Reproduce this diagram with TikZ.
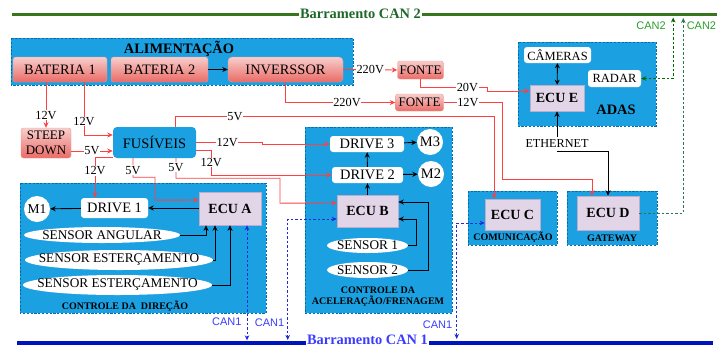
\documentclass[tikz,border=0pt]{standalone}
\usepackage{fontspec}
\setmainfont{Liberation Serif}
\newfontfamily\canfont{Liberation Sans}
\usetikzlibrary{arrows.meta,positioning,shapes.geometric}

\definecolor{azulgrupo}{RGB}{27,161,226}
\definecolor{bordagrupo}{RGB}{0,110,175}
\definecolor{lilas}{RGB}{225,213,231}
\definecolor{bordalilas}{RGB}{190,172,204}
\definecolor{vermclaro}{RGB}{248,206,204}
\definecolor{vermescuro}{RGB}{234,107,102}
\definecolor{vermborda}{RGB}{236,150,146}
\definecolor{fiovermelho}{RGB}{255,64,64}
\definecolor{verdebus}{RGB}{56,118,29}
\definecolor{verdetitulo}{RGB}{30,105,40}
\definecolor{verdecan}{RGB}{0,105,0}
\definecolor{verdecanb}{RGB}{40,120,80}
\definecolor{verdetxt}{RGB}{40,160,40}
\definecolor{azulbus}{RGB}{0,20,190}
\definecolor{azulcan}{RGB}{30,40,220}
\definecolor{azultxt}{RGB}{60,60,255}

\begin{document}
\begin{tikzpicture}[x=1pt, y=-1pt,
    grupo/.style={draw=bordagrupo, fill=azulgrupo, dash pattern=on 2.2pt off 1.6pt, line width=0.8pt},
    gtitulo/.style={inner sep=0pt, align=center, font=\fontsize{10}{11}\selectfont\bfseries},
    titulo/.style={inner sep=0pt, font=\fontsize{14.4}{16}\selectfont\bfseries},
    bus/.style={inner sep=1pt, font=\fontsize{14.4}{16}\selectfont\bfseries},
    fonte/.style={rounded corners=2.5pt, draw=vermborda, line width=0.4pt, top color=vermclaro,
                  bottom color=vermescuro, inner sep=0pt, font=\fontsize{14.4}{16}\selectfont},
    fusivel/.style={rounded corners=4pt, fill=azulgrupo, inner sep=0pt, font=\fontsize{14.4}{16}\selectfont},
    ecu/.style={draw=bordalilas, line width=0.6pt, fill=lilas, inner sep=0pt,
                font=\fontsize{14}{16}\selectfont\bfseries},
    caixa/.style={fill=white, rounded corners=3pt, inner sep=0pt, font=\fontsize{14.4}{16}\selectfont},
    caixap/.style={fill=white, rounded corners=3pt, inner sep=0pt, font=\fontsize{12.5}{14}\selectfont},
    sensor/.style={ellipse, fill=white, inner xsep=-30pt, inner ysep=-4pt, font=\fontsize{13.3}{15}\selectfont},
    motor/.style={circle, fill=white, inner sep=0pt, minimum size=26pt, font=\fontsize{13.5}{15}\selectfont},
    tensao/.style={fill=white, inner sep=0.6pt, font=\fontsize{12.3}{14}\selectfont},
    fio/.style={draw=fiovermelho, line width=0.9pt, -{Stealth[length=5.5pt, width=5pt]}},
    seta/.style={line width=0.9pt, -{Stealth[length=5.5pt, width=5pt]}},
    seta2/.style={line width=0.9pt, {Stealth[length=5pt, width=5pt]}-{Stealth[length=5pt, width=5pt]}},
    can1/.style={draw=azulcan, line width=0.9pt, dash pattern=on 2.5pt off 2pt,
                 {Stealth[length=5pt, width=4.5pt]}-{Stealth[length=5pt, width=4.5pt]}},
    can2/.style={draw=verdecan, line width=0.9pt, dash pattern=on 2.5pt off 2pt,
                 {Stealth[length=5pt, width=4.5pt]}-{Stealth[length=5pt, width=4.5pt]}},
    can2b/.style={draw=verdecanb, line width=0.9pt, dash pattern=on 2.5pt off 2pt,
                 -{Stealth[length=5pt, width=4.5pt]}},
    cantxt1/.style={inner sep=0pt, text=azultxt, font=\canfont\fontsize{11}{13}\selectfont},
    cantxt2/.style={inner sep=0pt, text=verdetxt, font=\canfont\fontsize{11}{13}\selectfont}
]
  \useasboundingbox (0,0) rectangle (727,346);

  % barramentos
  \coordinate (c2ini) at (12,14);
  \coordinate (c2fim) at (717,14);
  \node[bus, text=verdetitulo] (can2) at (360.5,14) {Barramento CAN 2};
  \draw[verdebus, line width=3pt] (c2ini) -- (can2.west |- c2ini);
  \draw[verdebus, line width=3pt] (can2.east |- c2fim) -- (c2fim);

  \coordinate (c1ini) at (17,343);
  \coordinate (c1fim) at (713,343);
  \node[bus, inner ysep=0pt, text=azultxt] (can1) at (367.5,339.5) {Barramento CAN 1};
  \draw[azulbus, line width=3.5pt] (c1ini) -- (can1.west |- c1ini);
  \draw[azulbus, line width=3.5pt] (can1.east |- c1fim) -- (c1fim);

  % grupos
  \draw[grupo] (11,38) rectangle (353,85);
  \draw[grupo] (20,183) rectangle (266,313);
  \draw[grupo] (305,127) rectangle (452,313);
  \draw[grupo] (468,191) rectangle (557,245);
  \draw[grupo] (567,191) rectangle (657,245);
  \draw[grupo] (518,42) rectangle (656,126);

  \node[titulo] (talim) at (179,49) {ALIMENTAÇÃO};
  \node[gtitulo] (tdir) at (125,306) {CONTROLE DA~~DIREÇÃO};
  \node[gtitulo] (tacel) at (378,296.5) {CONTROLE DA\\ACELERAÇÃO/FRENAGEM};
  \node[gtitulo] (tcom) at (513,237) {COMUNICAÇÃO};
  \node[gtitulo] (tgate) at (612,238) {GATEWAY};
  \node[titulo] (tadas) at (616,110) {ADAS};

  % alimentacao
  \node[fonte, minimum width=94pt, minimum height=25pt] (bat1) at (60,69.5) {BATERIA 1};
  \node[fonte, minimum width=97pt, minimum height=25pt] (bat2) at (159.5,69.5) {BATERIA 2};
  \node[fonte, minimum width=115pt, minimum height=25pt, rounded corners=4pt] (inv) at (285.5,69.5) {INVERSSOR};
  \node[fonte, minimum width=46pt, minimum height=18pt, font=\fontsize{13}{15}\selectfont] (fonte1) at (420.5,70) {FONTE};
  \node[fonte, minimum width=48pt, minimum height=17pt, font=\fontsize{13}{15}\selectfont] (fonte2) at (419.5,102.5) {FONTE};
  \node[fonte, minimum width=50pt, minimum height=30pt, align=center, font=\fontsize{13}{15}\selectfont] (steep) at (46,143) {STEEP\\DOWN};
  \node[fusivel, minimum width=83pt, minimum height=31pt] (fus) at (154.5,142.5) {FUSÍVEIS};

  % controle da direcao
  \node[motor] (m1) at (37,209) {M1};
  \node[caixa, minimum width=67pt, minimum height=20pt] (drive1) at (114.5,208) {DRIVE 1};
  \node[ecu, minimum width=62pt, minimum height=33pt] (ecuA) at (230,208.5) {ECU A};
  \node[sensor, minimum width=156pt, minimum height=16pt] (sensA) at (102,235) {SENSOR ANGULAR};
  \node[sensor, minimum width=188pt, minimum height=20pt] (sensE1) at (119,260) {SENSOR ESTERÇAMENTO};
  \node[sensor, minimum width=189pt, minimum height=20pt] (sensE2) at (117.5,285) {SENSOR ESTERÇAMENTO};

  % aceleracao / frenagem
  \node[caixa, minimum width=74pt, minimum height=16pt] (drive3) at (367,144) {DRIVE 3};
  \node[caixa, minimum width=71pt, minimum height=16pt] (drive2) at (367.5,175) {DRIVE 2};
  \node[motor, font=\fontsize{14.5}{16}\selectfont] (m3) at (430,142) {M3};
  \node[motor, font=\fontsize{14.5}{16}\selectfont] (m2) at (431,174) {M2};
  \node[ecu, minimum width=61pt, minimum height=32pt] (ecuB) at (367.5,211) {ECU B};
  \node[sensor, minimum width=81pt, minimum height=15pt] (sens1) at (367.5,245.5) {SENSOR 1};
  \node[sensor, minimum width=81pt, minimum height=16pt] (sens2) at (367.5,270) {SENSOR 2};

  % comunicacao, gateway, adas
  \node[ecu, minimum width=55pt, minimum height=31pt] (ecuC) at (512.5,214.5) {ECU C};
  \node[ecu, minimum width=62pt, minimum height=34pt] (ecuD) at (608,213) {ECU D};
  \node[caixap, minimum width=67pt, minimum height=16pt] (cameras) at (557.5,55) {CÂMERAS};
  \node[caixap, minimum width=53pt, minimum height=17pt] (radar) at (614.5,78.5) {RADAR};
  \node[ecu, minimum width=54pt, minimum height=26pt] (ecuE) at (557,98) {ECU E};
  \node[inner xsep=1pt, inner ysep=3pt, font=\fontsize{12.2}{14}\selectfont] (ethernet) at (557,144) {ETHERNET};

  % alimentacao -> cargas
  \draw[seta] (bat2) -- (inv);
  \draw[fio] (bat1.south -| steep.north) -- node[tensao, pos=0.72] (v1) {12V} (steep.north);
  \draw[fio] ([xshift=24pt]bat1.south) |- node[tensao, pos=0.37] (v2) {12V} ([yshift=7.5pt]fus.west);
  \draw[fio] ([yshift=-8pt]steep.east) -- node[tensao] (v3) {5V} ([yshift=-8pt]steep.east -| fus.west);
  \draw[fio] (inv.east) -- node[tensao] (v4) {220V} (fonte1.west);
  \draw[fio] (inv.south) |- node[tensao, pos=0.78] (v5) {220V} (fonte2.west);
  \draw[fio] (fonte1.south) -- ++(0,8) -- node[tensao, pos=0.7] (v6) {20V} ++(67,0) |- ([yshift=7pt]ecuE.west);
  \draw[fio] (fonte2.east) -- node[tensao, pos=0.41] (v7) {12V} ++(59,0) -- ++(0,76.5) -| ([xshift=-16pt]ecuD.north);

  % fusiveis -> cargas
  \draw[fio] ([xshift=20.5pt]fus.north) -- ++(0,-10) -| node[tensao, pos=0.094] (v8) {5V} ([xshift=-18.5pt]ecuC.north);
  \draw[fio] (fus.east) -- node[tensao, pos=0.47] (v9) {12V} ++(66,0) |- (drive3.west);
  \draw[fio] ([yshift=-7.5pt]fus.east) -- ++(15,0) |- node[tensao, pos=0.25] (v10) {12V} (drive2.west);
  \draw[fio] ([yshift=-14.5pt]fus.west) -| node[tensao, pos=0.67] (v11) {12V} ([xshift=-19.5pt]drive1.north);
  \draw[fio] ([xshift=-21.5pt]fus.south) -- node[tensao, pos=0.63] (v12) {5V} ++(0,19) -| ++(22,23) -- ([yshift=8.5pt]ecuA.west);
  \draw[fio] ([xshift=21.5pt]fus.south) -- node[tensao, pos=0.45] (v13) {5V} ++(0,20) -| ++(104,25) -- ([yshift=8pt]ecuB.west);

  % sinais
  \draw[seta] (ecuA.west |- drive1.east) -- (drive1.east);
  \draw[seta] (drive1) -- (m1);
  \draw[seta] (sensA.east) -| ([xshift=-24pt]ecuA.south);
  \draw[seta] (sensE1.east) -| ([xshift=-15pt]ecuA.south);
  \draw[seta] (sensE2.east) -| (ecuA.south);
  \draw[seta] (ecuB) -- (drive2);
  \draw[seta] (drive2) -- (drive3);
  \draw[seta] (drive3) -- (m3);
  \draw[seta] (drive2) -- (m2);
  \draw[seta] (sens1.east) -- ++(8,0) |- ([yshift=-8pt]ecuB.east);
  \draw[seta] (sens2.east) -- ++(20,0) |- ([yshift=9pt]ecuB.east);
  \draw[seta2] (cameras) -- (ecuE);
  \draw[seta] (ethernet) -- (ecuE);
  \draw[seta] (ethernet.south) -| (ecuD.north);

  % can
  \draw[can1] ([xshift=17pt]ecuA.south) -- node[cantxt1, pos=0.84, left=5pt] (lc1a) {CAN1} ++(0,115);
  \draw[can1] ([yshift=-8pt]ecuB.west) -- ++(-49,0) -- node[cantxt1, pos=0.86, left=3pt] (lc1b) {CAN1} ++(0,121);
  \draw[can1] ([yshift=-8.5pt]ecuC.west) -- ++(-28,0) -- node[cantxt1, pos=0.88, left=4pt] (lc1c) {CAN1} ++(0,116);
  \draw[can2] (radar.east) -- ++(32,0) -- node[cantxt2, pos=0.86, left=7pt] (lc2a) {CAN2} ++(0,-61);
  \draw[can2b] (ecuD.east) -- ++(44,0) -- node[cantxt2, pos=0.96, right=3pt] (lc2b) {CAN2} ++(0,-195);
\end{tikzpicture}
\end{document}
